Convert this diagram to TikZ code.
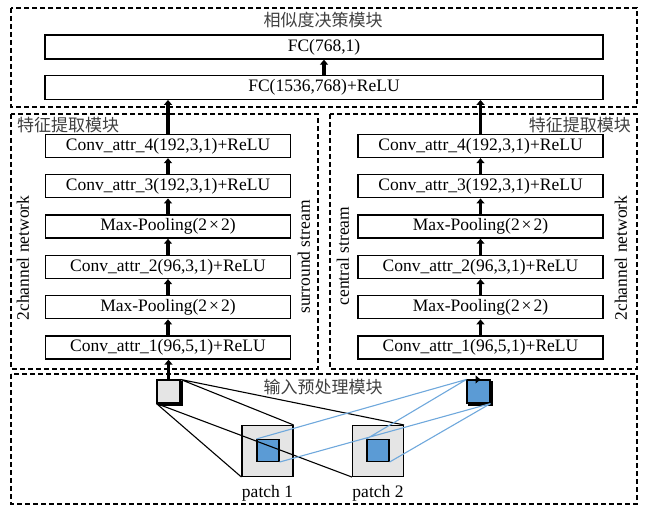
\documentclass[tikz,border=0pt]{standalone}
\usepackage{fontspec}
\setmainfont{Liberation Serif}
\newfontfamily\cjk{Noto Sans CJK SC}
\usetikzlibrary{arrows.meta,positioning}

\definecolor{patchblue}{HTML}{5B9BD5}
\definecolor{rayblue}{HTML}{6FA8DC}
\newcommand{\bytimes}{2\kern2pt×\kern2pt2}

\begin{document}
\begin{tikzpicture}[
    x=1pt,
    y=-1pt,
    font=\fontsize{17.5}{20}\selectfont,
    node distance=16pt,
    layer/.style={
        draw,
        line width=1.3pt,
        minimum width=245pt,
        minimum height=23pt,
        inner sep=0pt,
    },
    fc/.style={
        layer,
        minimum width=558pt,
        minimum height=24pt,
    },
    flow/.style={
        -{Triangle[length=5pt,width=8pt]},
        line width=3.6pt,
    },
    group/.style={
        dashed,
        dash pattern=on 5pt off 3pt,
        line width=1.1pt,
    },
    zh/.style={
        font=\cjk\fontsize{17}{20}\selectfont,
        text=black!75,
        inner sep=0pt,
    },
    side/.style={
        rotate=90,
        inner sep=0pt,
    },
    pix/.style={
        draw,
        line width=1.1pt,
        inner sep=0pt,
    },
]
    \useasboundingbox (0,0) rectangle (646,508);

    % module frames
    \draw[group] (11,8)    rectangle (637,107);
    \draw[group] (11,114)  rectangle (318,369);
    \draw[group] (330,114) rectangle (637,369);
    \draw[group] (11,374)  rectangle (637,504);

    \node[zh] (tdecide)  at (323,20)                 {相似度决策模块};
    \node[zh, anchor=west] (tleft)  at (17,125)      {特征提取模块};
    \node[zh, anchor=east] (tright) at (631,125)     {特征提取模块};
    \node[zh] (tinput)   at (323,387)                {输入预处理模块};

    % similarity decision
    \node[fc] (fcout) at (324,47)              {FC(768,1)};
    \node[fc, below=15pt of fcout] (fchid)     {FC(1536,768)+ReLU};

    % surround and central streams
    \begin{scope}[
        every node/.append style={
            layer,
        },
    ]
        \node (sc1) at (168,347.5)          {Conv\_attr\_1(96,5,1)+ReLU};
        \node (smp1) [above=of sc1]         {Max-Pooling(\bytimes)};
        \node (sc2)  [above=of smp1]        {Conv\_attr\_2(96,3,1)+ReLU};
        \node (smp2) [above=of sc2]         {Max-Pooling(\bytimes)};
        \node (sc3)  [above=of smp2]        {Conv\_attr\_3(192,3,1)+ReLU};
        \node (sc4)  [above=of sc3]         {Conv\_attr\_4(192,3,1)+ReLU};

        \node (cc1) at (480.5,347.5)        {Conv\_attr\_1(96,5,1)+ReLU};
        \node (cmp1) [above=of cc1]         {Max-Pooling(\bytimes)};
        \node (cc2)  [above=of cmp1]        {Conv\_attr\_2(96,3,1)+ReLU};
        \node (cmp2) [above=of cc2]         {Max-Pooling(\bytimes)};
        \node (cc3)  [above=of cmp2]        {Conv\_attr\_3(192,3,1)+ReLU};
        \node (cc4)  [above=of cc3]         {Conv\_attr\_4(192,3,1)+ReLU};
    \end{scope}

    \node[side] (nleft)   at (23,258)  {2channel network};
    \node[side] (sstream) at (304,257) {surround stream};
    \node[side] (cstream) at (343,256) {central stream};
    \node[side] (nright)  at (621,258) {2channel network};

    % input patches
    \node[pix, fill=black!75, minimum size=23pt] at (170.5,393.5) {};
    \node[pix, fill=black!10, minimum size=23pt] (sin) at (168.5,391.5) {};
    \node[pix, fill=black!75, minimum size=23pt] at (480.5,393.5) {};
    \node[pix, fill=patchblue, minimum size=23pt] (cin) at (478.5,391.5) {};

    \node[pix, fill=black!10, minimum size=51pt] (pa1) at (267.5,451) {};
    \node[pix, fill=patchblue, minimum size=22pt] (pb1) at (268,450.5) {};
    \node[pix, fill=black!10, minimum size=51pt] (pa2) at (378,451) {};
    \node[pix, fill=patchblue, minimum size=22pt] (pb2) at (378,450.5) {};

    \node (lp1) at (267.5,493) {patch 1};
    \node (lp2) at (378,493)   {patch 2};

    \draw[line width=1.1pt]
    (sin.north east) -- (pa1.north east)
    (sin.north east) -- (pa2.north east)
    (sin.south west) -- (pa1.south west)
    (sin.south west) -- (pa2.south west);
    \draw[line width=1.1pt, rayblue]
    (cin.north west) -- (pb1.north west)
    (cin.north west) -- (pb2.north west)
    (cin.south east) -- (pb1.south east)
    (cin.south east) -- (pb2.south east);

    % data flow
    \path[flow]
    (sin.north) edge (sin.north |- sc1.south)
    (sc1) edge (smp1)
    (smp1) edge (sc2)
    (sc2) edge (smp2)
    (smp2) edge (sc3)
    (sc3) edge (sc4)
    (sc4.north) edge (sc4.north |- fchid.south)
    (cin.north) edge (cin.north -| cc1.south)
    (cc1) edge (cmp1)
    (cmp1) edge (cc2)
    (cc2) edge (cmp2)
    (cmp2) edge (cc3)
    (cc3) edge (cc4)
    (cc4.north) edge (cc4.north |- fchid.south)
    (fchid) edge (fcout);
\end{tikzpicture}
\end{document}
